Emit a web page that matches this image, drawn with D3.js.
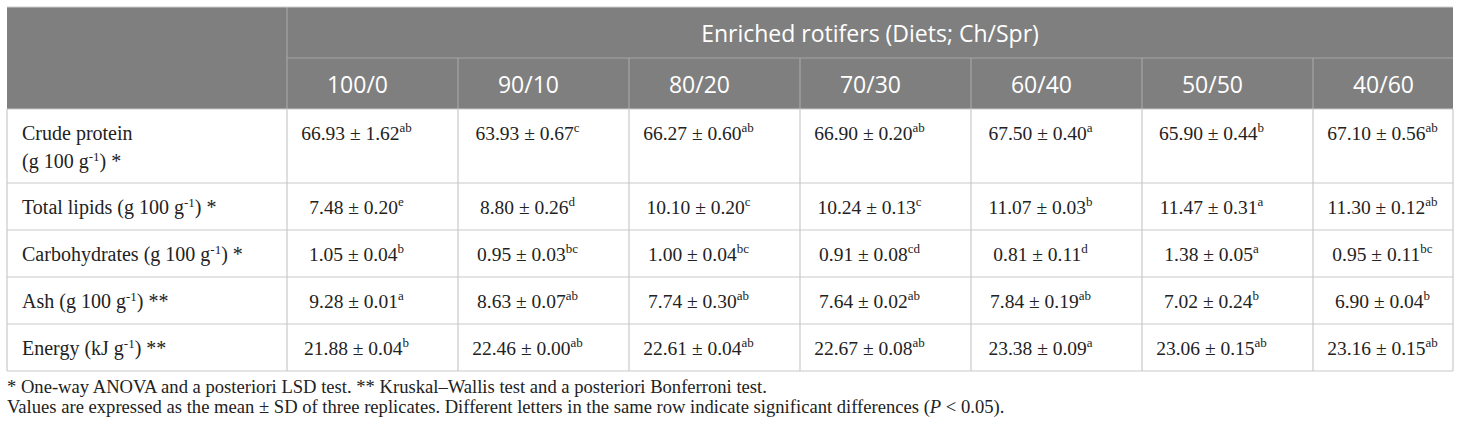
<!DOCTYPE html>
<html>
<head>
<meta charset="utf-8">
<script src="https://cdn.jsdelivr.net/npm/d3@7"></script>
<style>
  body { margin: 0; background: #fff; }
</style>
</head>
<body>
<script>
const WIDTH = 1460
const HEIGHT = 434

// Data
const groupTitle = "Enriched rotifers (Diets; Ch/Spr)"
const diets = ["100/0", "90/10", "80/20", "70/30", "60/40", "50/50", "40/60"]

// labels: "^" starts a superscript, "_" ends it, "|" breaks the line
const rowLabels = [
  "Crude protein|(g 100 g^-1_) *",
  "Total lipids (g 100 g^-1_) *",
  "Carbohydrates (g 100 g^-1_) *",
  "Ash (g 100 g^-1_) **",
  "Energy (kJ g^-1_) **"
]

const crudeProtein = [66.93, 63.93, 66.27, 66.90, 67.50, 65.90, 67.10]
const crudeProteinSD = [1.62, 0.67, 0.60, 0.20, 0.40, 0.44, 0.56]
const crudeProteinSig = ["ab", "c", "ab", "ab", "a", "b", "ab"]

const totalLipids = [7.48, 8.80, 10.10, 10.24, 11.07, 11.47, 11.30]
const totalLipidsSD = [0.20, 0.26, 0.20, 0.13, 0.03, 0.31, 0.12]
const totalLipidsSig = ["e", "d", "c", "c", "b", "a", "ab"]

const carbohydrates = [1.05, 0.95, 1.00, 0.91, 0.81, 1.38, 0.95]
const carbohydratesSD = [0.04, 0.03, 0.04, 0.08, 0.11, 0.05, 0.11]
const carbohydratesSig = ["b", "bc", "bc", "cd", "d", "a", "bc"]

const ash = [9.28, 8.63, 7.74, 7.64, 7.84, 7.02, 6.90]
const ashSD = [0.01, 0.07, 0.30, 0.02, 0.19, 0.24, 0.04]
const ashSig = ["a", "ab", "ab", "ab", "ab", "b", "b"]

const energy = [21.88, 22.46, 22.61, 22.67, 23.38, 23.06, 23.16]
const energySD = [0.04, 0.00, 0.04, 0.08, 0.09, 0.15, 0.15]
const energySig = ["b", "ab", "ab", "ab", "a", "ab", "ab"]

const footnotes = [
  "* One-way ANOVA and a posteriori LSD test. ** Kruskal\u2013Wallis test and a posteriori Bonferroni test.",
  "Values are expressed as the mean \u00b1 SD of three replicates. Different letters in the same row indicate significant differences (^P_ < 0.05)."
]

const means = [crudeProtein, totalLipids, carbohydrates, ash, energy]
const sds = [crudeProteinSD, totalLipidsSD, carbohydratesSD, ashSD, energySD]
const sigs = [crudeProteinSig, totalLipidsSig, carbohydratesSig, ashSig, energySig]

// Layout
const X0 = 7, Y0 = 7, X1 = 1453
const labelW = 280
const headH = 51
const lineH = 28.5
const rowPad = 47
const extraLine = 27
const colW = 171
const textOff = 69.5

const SERIF = "'Liberation Serif', 'Times New Roman', serif"
const SANS = "'Open Sans', 'Noto Sans', sans-serif"

const svg = d3.select("body").append("svg")
  .attr("width", WIDTH)
  .attr("height", HEIGHT)

// scales
const x = d3.scaleBand()
  .domain(diets)
  .range([X0 + labelW, X0 + labelW + colW * diets.length])

const lines = rowLabels.map(d => d.split("|"))
const heights = lines.map(l => rowPad + extraLine * (l.length - 1))
const rowTops = Array.from(d3.cumsum([0].concat(heights))).map(v => Y0 + 2 * headH + v)
const bodyBottom = rowTops[rowTops.length - 1]

const y = d3.scaleOrdinal()
  .domain(rowLabels)
  .range(rowTops.slice(0, -1))

const colLeft = d => x(d)

// header background
svg.append("rect")
  .attr("x", X0).attr("y", Y0)
  .attr("width", X1 - X0).attr("height", headH * 2)
  .attr("fill", "#7f7f7f")

// rich text helper
function rich(sel, str, supSize) {
  const parts = str.split(/(\^[^_]*_)/).filter(s => s.length)
  parts.forEach(p => {
    if (p[0] === "^") {
      const t = p.slice(1, -1)
      if (t === "P") {
        sel.append("tspan").attr("font-style", "italic").text(t)
      } else {
        sel.append("tspan")
          .attr("font-size", supSize)
          .attr("baseline-shift", "super")
          .text(t)
      }
    } else {
      sel.append("tspan").text(p)
    }
  })
}

// header texts
svg.append("text")
  .attr("x", (X0 + labelW + X1) / 2)
  .attr("y", Y0 + 35)
  .attr("text-anchor", "middle")
  .attr("font-family", SANS)
  .attr("font-size", 23)
  .attr("fill", "#fff")
  .text(groupTitle)

svg.selectAll(".diet")
  .data(diets)
  .join("text")
  .attr("class", "diet")
  .attr("x", d => colLeft(d) + 70.5)
  .attr("y", Y0 + headH + 35)
  .attr("text-anchor", "middle")
  .attr("font-family", SANS)
  .attr("font-size", 23)
  .attr("fill", "#fff")
  .text(d => d)

// header grid
const hg = svg.append("g").attr("stroke", "#a5a5a5").attr("stroke-width", 1.2)
hg.append("line")
  .attr("x1", X0 + labelW).attr("x2", X1)
  .attr("y1", Y0 + headH).attr("y2", Y0 + headH)
hg.selectAll(".hv")
  .data(diets)
  .join("line")
  .attr("x1", d => colLeft(d)).attr("x2", d => colLeft(d))
  .attr("y1", (d, i) => i === 0 ? Y0 : Y0 + headH)
  .attr("y2", Y0 + 2 * headH)

// body grid
const bg = svg.append("g").attr("stroke", "#c9c9c9").attr("stroke-width", 1.2)
bg.selectAll(".hr")
  .data(rowTops)
  .join("line")
  .attr("x1", X0).attr("x2", X1)
  .attr("y1", d => d).attr("y2", d => d)
bg.selectAll(".vr")
  .data(diets)
  .join("line")
  .attr("x1", d => colLeft(d)).attr("x2", d => colLeft(d))
  .attr("y1", Y0 + 2 * headH).attr("y2", bodyBottom)
bg.append("line")
  .attr("x1", X0).attr("x2", X0)
  .attr("y1", Y0 + 2 * headH).attr("y2", bodyBottom)
bg.append("line")
  .attr("x1", X1).attr("x2", X1)
  .attr("y1", Y0 + 2 * headH).attr("y2", bodyBottom)
// top edge
svg.append("line")
  .attr("x1", X0).attr("x2", X1)
  .attr("y1", Y0).attr("y2", Y0)
  .attr("stroke", "#d0d0d0").attr("stroke-width", 1.2)

// row labels
rowLabels.forEach((lab, r) => {
  lines[r].forEach((ln, k) => {
    const t = svg.append("text")
      .attr("x", X0 + 15)
      .attr("y", y(lab) + 30.5 + k * lineH)
      .attr("font-family", SERIF)
      .attr("font-size", 20)
      .attr("fill", "#222")
    rich(t, ln, 13)
  })
})

// cells
rowLabels.forEach((lab, r) => {
  const cells = diets.map((d, c) => ({ diet: d, m: means[r][c], sd: sds[r][c], s: sigs[r][c] }))
  const g = svg.append("g")
  g.selectAll("text")
    .data(cells)
    .join("text")
    .attr("x", d => colLeft(d.diet) + textOff)
    .attr("y", y(lab) + 30.5)
    .attr("text-anchor", "middle")
    .attr("font-family", SERIF)
    .attr("font-size", 19.5)
    .attr("fill", "#222")
    .each(function (d) {
      const t = d3.select(this)
      t.append("tspan").text(d3.format(".2f")(d.m) + " \u00b1 " + d3.format(".2f")(d.sd))
      t.append("tspan").attr("font-size", 13).attr("dy", -8).text(d.s)
    })
})

// footnotes
footnotes.forEach((f, i) => {
  const t = svg.append("text")
    .attr("x", X0)
    .attr("y", bodyBottom + 22 + i * 20)
    .attr("font-family", SERIF)
    .attr("font-size", 18.6)
    .attr("fill", "#222")
  rich(t, f, 12)
})
</script>
</body>
</html>
